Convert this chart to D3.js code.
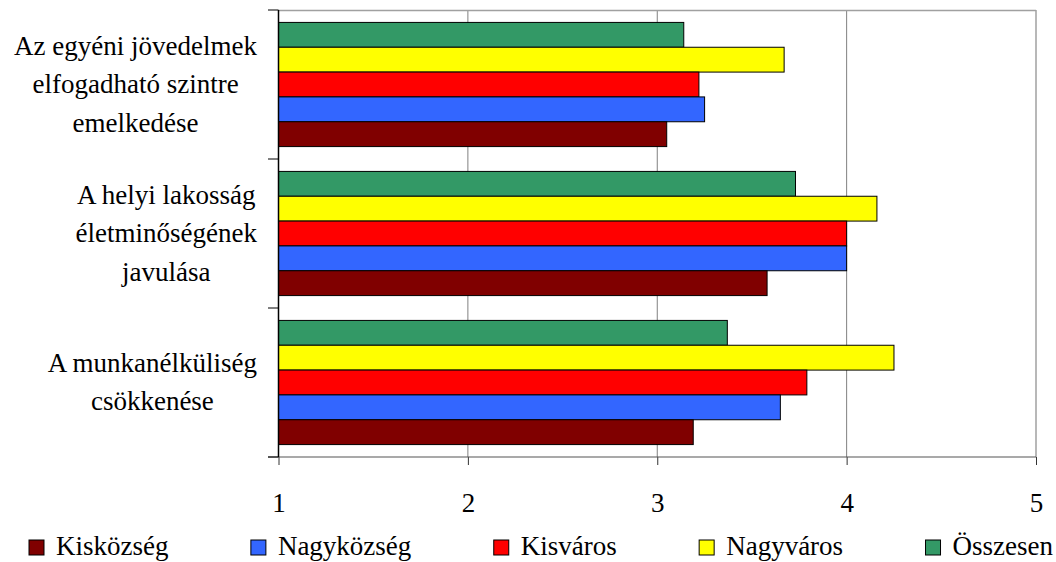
<!DOCTYPE html>
<html>
<head>
<meta charset="utf-8">
<script src="https://cdn.jsdelivr.net/npm/d3@7"></script>
<style>
  html, body { margin: 0; padding: 0; background: #fff; }
  svg { display: block; }
</style>
</head>
<body>
<svg id="chart" width="1056" height="562" font-family="Liberation Serif"></svg>
<script>
// ---- data ----
const categories = [
  ["Az egyéni jövedelmek", "elfogadható szintre", "emelkedése"],
  ["A helyi lakosság", "életminőségének", "javulása"],
  ["A munkanélküliség", "csökkenése"]
];
const seriesNames = ["Kisközség", "Nagyközség", "Kisváros", "Nagyváros", "Összesen"];
const seriesColors = ["#800000", "#3366FF", "#FF0000", "#FFFF00", "#339966"];
// values per series, one per category (top to bottom)
const kiskozseg  = [3.05, 3.58, 3.19];
const nagykozseg = [3.25, 4.00, 3.65];
const kisvaros   = [3.22, 4.00, 3.79];
const nagyvaros  = [3.67, 4.16, 4.25];
const osszesen   = [3.14, 3.73, 3.37];
const xTicks = [1, 2, 3, 4, 5];

const seriesValues = [kiskozseg, nagykozseg, kisvaros, nagyvaros, osszesen];

// ---- layout ----
const FONT = "Liberation Serif";
const svg = d3.select("#chart");
const pL = 278.5, pR = 1036, pT = 10, pB = 457;
const fontSize = 27;

const x = d3.scaleLinear().domain([1, 5]).range([pL, pR]);
const catIdx = categories.map((d, i) => i);
const y0 = d3.scaleBand().domain(catIdx).range([pT, pB]).padding(0);
// within group, top to bottom: Összesen, Nagyváros, Kisváros, Nagyközség, Kisközség
const drawOrder = [4, 3, 2, 1, 0];
const y1 = d3.scaleBand().domain(drawOrder).range([0, y0.bandwidth()]).paddingInner(0).paddingOuter(0.5);

// gridlines
svg.append("g").selectAll("line").data(xTicks.filter(t => t > 1 && t < 5)).join("line")
  .attr("x1", d => x(d)).attr("x2", d => x(d))
  .attr("y1", pT).attr("y2", pB)
  .attr("stroke", "#808080").attr("stroke-width", 1);

// plot border (top, right)
svg.append("line").attr("x1", pL).attr("x2", pR).attr("y1", pT + 0.5).attr("y2", pT + 0.5)
  .attr("stroke", "#a0a0a0").attr("stroke-width", 1.5);
svg.append("line").attr("x1", pR).attr("x2", pR).attr("y1", pT).attr("y2", pB)
  .attr("stroke", "#a0a0a0").attr("stroke-width", 1.5);

// bars
const groups = svg.append("g").selectAll("g").data(catIdx).join("g")
  .attr("transform", d => `translate(0,${y0(d)})`);
groups.selectAll("rect")
  .data(ci => drawOrder.map(si => ({ si, v: seriesValues[si][ci] })))
  .join("rect")
  .attr("x", x(1))
  .attr("y", d => y1(d.si))
  .attr("width", d => x(d.v) - x(1))
  .attr("height", y1.bandwidth())
  .attr("fill", d => seriesColors[d.si])
  .attr("stroke", "#000").attr("stroke-width", 1);

// bottom axis
const xAxis = d3.axisBottom(x).tickValues(xTicks).tickSize(8).tickPadding(28).tickFormat(d3.format("d"));
const gx = svg.append("g").attr("transform", `translate(0,${pB})`).call(xAxis);
gx.attr("font-family", FONT).attr("font-size", fontSize);
gx.select(".domain").remove();
gx.selectAll(".tick line").attr("stroke", "#333");
gx.selectAll(".tick text").attr("fill", "#000");
svg.append("line").attr("x1", 268).attr("x2", pR).attr("y1", pB).attr("y2", pB)
  .attr("stroke", "#555").attr("stroke-width", 1.2);

// left axis
const boundaries = [pT].concat(catIdx.map(i => y0(i) + y0.bandwidth()));
svg.append("g").selectAll("line").data(boundaries).join("line")
  .attr("x1", 268).attr("x2", pL).attr("y1", d => d).attr("y2", d => d)
  .attr("stroke", "#000").attr("stroke-width", 1);
svg.append("line").attr("x1", pL).attr("x2", pL).attr("y1", pT).attr("y2", pB)
  .attr("stroke", "#000").attr("stroke-width", 1.5);

// category labels
const lineH = 38.5;
const labels = svg.append("g");
catIdx.forEach(ci => {
  const lines = categories[ci];
  const cy = y0(ci) + y0.bandwidth() / 2;
  const t = labels.append("text")
    .attr("font-family", FONT).attr("font-size", fontSize)
    .attr("text-anchor", "middle").attr("fill", "#000");
  lines.forEach((ln, k) => {
    t.append("tspan").attr("x", 0)
      .attr("y", cy + 8.5 + (k - (lines.length - 1) / 2) * lineH)
      .text(ln);
  });
  let maxW = 0;
  t.selectAll("tspan").each(function () { maxW = Math.max(maxW, this.getComputedTextLength()); });
  t.selectAll("tspan").attr("x", 257 - maxW / 2);
});

// legend
const legend = svg.append("g");
const legY = 555;
const items = seriesNames.map((name, i) => {
  const g = legend.append("g");
  g.append("rect").attr("x", 0).attr("y", legY - 15).attr("width", 15).attr("height", 15)
    .attr("fill", seriesColors[i]).attr("stroke", "#000").attr("stroke-width", 1);
  const t = g.append("text").attr("x", 27).attr("y", legY)
    .attr("font-family", FONT).attr("font-size", fontSize).attr("fill", "#000").text(name);
  return { g, w: 27 + t.node().getComputedTextLength() };
});
const legStart = 29, legEnd = 1053;
const totalW = d3.sum(items, d => d.w);
const gap = (legEnd - legStart - totalW) / (items.length - 1);
let cx = legStart;
items.forEach(it => { it.g.attr("transform", `translate(${cx},0)`); cx += it.w + gap; });
</script>
</body>
</html>
